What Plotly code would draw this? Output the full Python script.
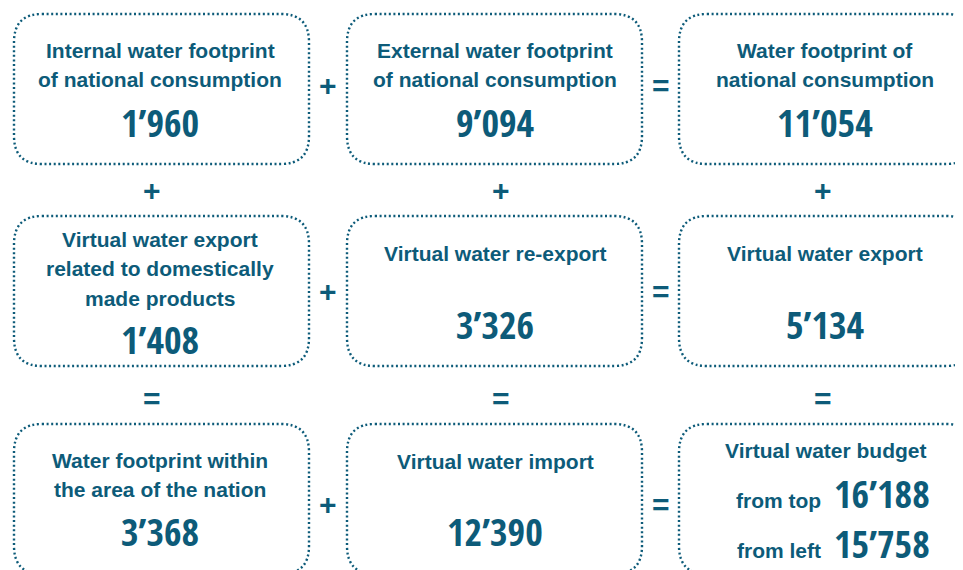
import plotly.graph_objects as go

# ---- data ----
box_titles = [
    ["Internal water footprint", "of national consumption"],
    ["External water footprint", "of national consumption"],
    ["Water footprint of", "national consumption"],
    ["Virtual water export", "related to domestically", "made products"],
    ["Virtual water re-export"],
    ["Virtual water export"],
    ["Water footprint within", "the area of the nation"],
    ["Virtual water import"],
    ["Virtual water budget"],
]
box_values = [1960, 9094, 11054, 1408, 3326, 5134, 3368, 12390, None]
budget_labels = ["from top", "from left"]
budget_values = [16188, 15758]
row_ops = [["+", "="], ["+", "="], ["+", "="]]
col_ops = [["+", "+", "+"], ["=", "=", "="]]

# ---- layout constants ----
COLOR = "#0d5b79"
LABEL_FONT = "Liberation Sans, Arial, sans-serif"
NUM_FONT = "Open Sans Condensed, Roboto Condensed, sans-serif"
NUM_SIZE = 38
col_x0 = [14, 347, 679]
box_w = 295
row_y0 = [14, 216, 424]
box_h = 150
radius = 28
text_cx = [160, 495, 825]
label_y = [50, 50, 50, 239, 253, 253, 460, 461, 450]
num_y = [122, 122, 122, 339, 324, 324, 531, 531, None]
line_gap = 29.5
op_x_h = [328, 661]
op_y_h = [85, 291, 504]
op_y_v = [190, 398]
op_x_v = [152, 501, 823]
PAGE_OFF = 8  # body margin of the html page


def fmt(v):
    return f"{v:,}".replace(",", "\u2019")


fig = go.Figure()
fig.add_trace(go.Scatter(x=[10, 960], y=[10, 560], mode="markers",
                         marker=dict(opacity=0), hoverinfo="skip", showlegend=False))

shapes = []
for r in range(3):
    for c in range(3):
        x0 = col_x0[c]; x1 = x0 + box_w
        y0 = row_y0[r]; y1 = y0 + box_h
        rr = radius
        path = (f"M {x0+rr},{y0} L {x1-rr},{y0} Q {x1},{y0} {x1},{y0+rr} "
                f"L {x1},{y1-rr} Q {x1},{y1} {x1-rr},{y1} L {x0+rr},{y1} "
                f"Q {x0},{y1} {x0},{y1-rr} L {x0},{y0+rr} Q {x0},{y0} {x0+rr},{y0} Z")
        shapes.append(dict(type="path", path=path, xref="x", yref="y",
                           line=dict(color=COLOR, width=2.4, dash="2px,2.6px")))

ann = []
for i, lines in enumerate(box_titles):
    c = i % 3
    for k, t in enumerate(lines):
        ann.append(dict(x=text_cx[c], y=label_y[i] + k * line_gap, text=t,
                        showarrow=False, xanchor="center", yanchor="middle",
                        font=dict(family=LABEL_FONT, size=21, color=COLOR, weight="bold")))
    if box_values[i] is not None:
        ann.append(dict(x=text_cx[c], y=num_y[i], text=fmt(box_values[i]),
                        showarrow=False, xanchor="center", yanchor="middle",
                        font=dict(family=NUM_FONT, size=NUM_SIZE, color=COLOR, weight="bold")))

budget_base = [508, 558]
for lab, val, base in zip(budget_labels, budget_values, budget_base):
    ann.append(dict(x=823, y=base - 7.3, text=lab, showarrow=False,
                    xanchor="right", yanchor="middle",
                    font=dict(family=LABEL_FONT, size=21, color=COLOR, weight="bold")))
    ann.append(dict(x=832, y=base - 14.7, text=fmt(val), showarrow=False,
                    xanchor="left", yanchor="middle",
                    font=dict(family=NUM_FONT, size=NUM_SIZE, color=COLOR, weight="bold")))

for r in range(3):
    for j, op in enumerate(row_ops[r]):
        ann.append(dict(x=op_x_h[j], y=op_y_h[r], text=op, showarrow=False,
                        xanchor="center", yanchor="middle",
                        font=dict(family=LABEL_FONT, size=30, color=COLOR, weight="bold")))
for r in range(2):
    for c, op in enumerate(col_ops[r]):
        ann.append(dict(x=op_x_v[c], y=op_y_v[r], text=op, showarrow=False,
                        xanchor="center", yanchor="middle",
                        font=dict(family=LABEL_FONT, size=30, color=COLOR, weight="bold")))

fig.update_layout(
    width=963, height=570,
    margin=dict(l=0, r=0, t=0, b=0),
    paper_bgcolor="white", plot_bgcolor="white",
    xaxis=dict(range=[PAGE_OFF, 963 + PAGE_OFF], visible=False, fixedrange=True),
    yaxis=dict(range=[570 + PAGE_OFF, PAGE_OFF], visible=False, fixedrange=True),
    shapes=shapes, annotations=ann, showlegend=False,
)
fig.write_html("out.html", config={"displayModeBar": False})
